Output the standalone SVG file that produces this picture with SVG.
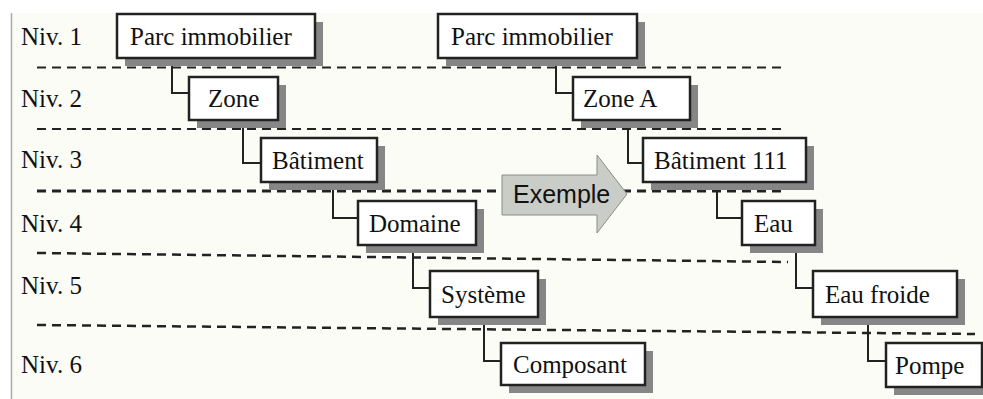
<svg xmlns="http://www.w3.org/2000/svg" width="983" height="399" viewBox="0 0 983 399">
<style>
.bg{fill:#fcfcf6}
.lvl{font-family:"Liberation Serif","Times New Roman",serif;font-size:25px;fill:#111}
.sep{fill:none;stroke:#222;stroke-dasharray:9 6}
.shadow{fill:#868686}
.box{fill:#ffffff;stroke:#222;stroke-width:2.5}
.lbl{font-family:"Liberation Serif","Times New Roman",serif;font-size:25px;fill:#111}
.conn{fill:none;stroke:#222;stroke-width:2}
.arrow{fill:#c9ccc7;stroke:#8a8c88;stroke-width:1}
.ex{font-family:"Liberation Sans",Arial,sans-serif;font-size:25px;fill:#111}
</style>
<rect x="0" y="0" width="983" height="399" fill="#ffffff"/>
<rect class="bg" x="12" y="13" width="971" height="386"/>
<line x1="11.5" y1="13" x2="11.5" y2="399" stroke="#aaaaaa" stroke-width="1.5"/>

<g id="levels">
<text class="lvl" x="21" y="45">Niv. 1</text>
<text class="lvl" x="21" y="107">Niv. 2</text>
<text class="lvl" x="21" y="168">Niv. 3</text>
<text class="lvl" x="21" y="232">Niv. 4</text>
<text class="lvl" x="21" y="294">Niv. 5</text>
<text class="lvl" x="21" y="373">Niv. 6</text>
</g>

<g id="separators">
<line class="sep" x1="37" y1="67.5" x2="782" y2="67.5" stroke-width="2"/>
<line class="sep" x1="37" y1="129" x2="782" y2="129" stroke-width="2"/>
<line class="sep" x1="37" y1="191" x2="782" y2="191" stroke-width="3"/>
<line class="sep" x1="37" y1="253" x2="788" y2="262" stroke-width="2.5"/>
<line class="sep" x1="37" y1="325" x2="975" y2="334" stroke-width="2.5"/>
</g>

<g id="connectors">
<polyline class="conn" points="172,58 172,93 189,93"/>
<polyline class="conn" points="243,120 243,163 261,163"/>
<polyline class="conn" points="333,182 333,218 358,218"/>
<polyline class="conn" points="413,245 413,288 430,288"/>
<polyline class="conn" points="484,317 484,361 501,361"/>
<polyline class="conn" points="556,58 556,93 573,93"/>
<polyline class="conn" points="628,120 628,163 643,163"/>
<polyline class="conn" points="717,182 717,218 742,218"/>
<polyline class="conn" points="796,245 796,288 813,288"/>
<polyline class="conn" points="868,317 868,361 886,361"/>
</g>

<g id="n-parc-l">
<rect class="shadow" x="125" y="22" width="198" height="44"/>
<rect class="box" x="117" y="14" width="198" height="44"/>
<text class="lbl" x="130" y="45">Parc immobilier</text>
</g>
<g id="n-zone">
<rect class="shadow" x="197" y="85" width="89" height="43"/>
<rect class="box" x="189" y="77" width="89" height="43"/>
<text class="lbl" x="208" y="107">Zone</text>
</g>
<g id="n-batiment">
<rect class="shadow" x="269" y="146" width="116" height="44"/>
<rect class="box" x="261" y="138" width="116" height="44"/>
<text class="lbl" x="272" y="169">Bâtiment</text>
</g>
<g id="n-domaine">
<rect class="shadow" x="366" y="209" width="118" height="44"/>
<rect class="box" x="358" y="201" width="118" height="44"/>
<text class="lbl" x="369" y="232">Domaine</text>
</g>
<g id="n-systeme">
<rect class="shadow" x="438" y="279" width="108" height="46"/>
<rect class="box" x="430" y="271" width="108" height="46"/>
<text class="lbl" x="441" y="303">Système</text>
</g>
<g id="n-composant">
<rect class="shadow" x="509" y="351" width="144" height="42"/>
<rect class="box" x="501" y="343" width="144" height="42"/>
<text class="lbl" x="513" y="373">Composant</text>
</g>

<g id="n-parc-r">
<rect class="shadow" x="446" y="22" width="199" height="44"/>
<rect class="box" x="438" y="14" width="199" height="44"/>
<text class="lbl" x="451" y="45">Parc immobilier</text>
</g>
<g id="n-zone-a">
<rect class="shadow" x="581" y="85" width="117" height="43"/>
<rect class="box" x="573" y="77" width="117" height="43"/>
<text class="lbl" x="583" y="107">Zone A</text>
</g>
<g id="n-batiment-111">
<rect class="shadow" x="651" y="146" width="163" height="44"/>
<rect class="box" x="643" y="138" width="163" height="44"/>
<text class="lbl" x="654" y="169">Bâtiment 111</text>
</g>
<g id="n-eau">
<rect class="shadow" x="750" y="209" width="73" height="44"/>
<rect class="box" x="742" y="201" width="73" height="44"/>
<text class="lbl" x="754" y="232">Eau</text>
</g>
<g id="n-eau-froide">
<rect class="shadow" x="821" y="279" width="144" height="46"/>
<rect class="box" x="813" y="271" width="144" height="46"/>
<text class="lbl" x="825" y="303">Eau froide</text>
</g>
<g id="n-pompe">
<rect class="shadow" x="894" y="351" width="96" height="44"/>
<rect class="box" x="886" y="343" width="96" height="44"/>
<text class="lbl" x="895" y="374">Pompe</text>
</g>

<g id="exemple">
<polygon class="arrow" points="502,175 597,175 597,155 627,194 597,233 597,215 502,215"/>
<text class="ex" x="513" y="203">Exemple</text>
</g>
</svg>
